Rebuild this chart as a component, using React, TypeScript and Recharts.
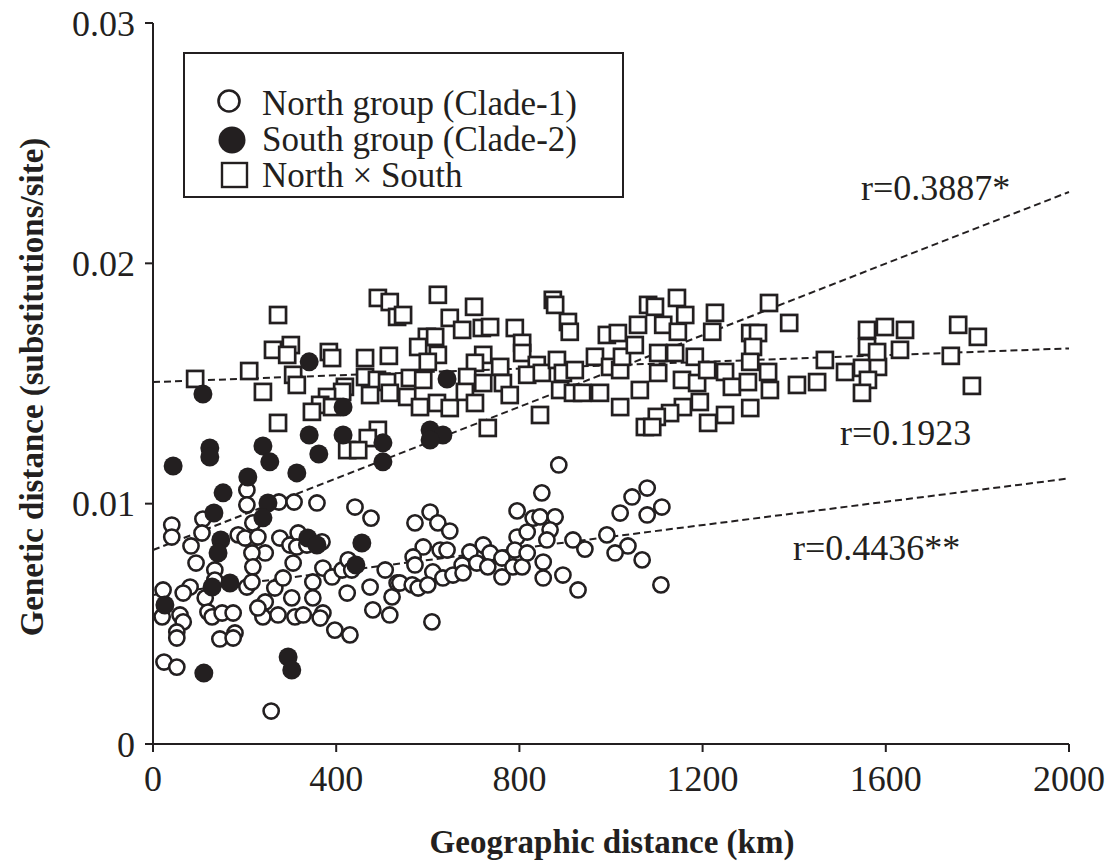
import { ScatterChart, Scatter, XAxis, YAxis, ReferenceLine, Legend } from "recharts";

const INK = "#231f20";
const FONT = '"Liberation Serif", "Times New Roman", serif';

// [geographic distance (km), genetic distance (substitutions/site)]
const northGroup: [number, number][] = [
  [41, 0.00911], [41, 0.00861], [83, 0.00824], [94, 0.00753], [109, 0.00936], [107, 0.00878],
  [205, 0.01057], [205, 0.00995], [186, 0.0087], [201, 0.00857], [218, 0.0092], [229, 0.00861],
  [275, 0.01007], [308, 0.01007], [358, 0.01003], [441, 0.00986], [476, 0.0094], [277, 0.00857],
  [299, 0.00828], [317, 0.00878], [314, 0.0082], [336, 0.00828], [369, 0.00841], [245, 0.00795],
  [216, 0.00795], [218, 0.00737], [135, 0.00724], [135, 0.00682], [81, 0.00653], [66, 0.00628],
  [22, 0.00641], [20, 0.00529], [59, 0.00537], [66, 0.00508], [52, 0.00466], [52, 0.00441],
  [114, 0.00608], [120, 0.00549], [129, 0.00529], [151, 0.00545], [175, 0.00545], [146, 0.00437],
  [179, 0.00462], [175, 0.00441], [205, 0.00653], [216, 0.00674], [245, 0.00591], [240, 0.00529],
  [273, 0.00537], [229, 0.00566], [266, 0.00649], [284, 0.00691], [306, 0.00753], [303, 0.00608],
  [310, 0.00529], [328, 0.00537], [349, 0.00674], [349, 0.00608], [371, 0.00732], [371, 0.00545],
  [365, 0.00524], [397, 0.00474], [430, 0.00454], [391, 0.00695], [413, 0.00724], [426, 0.00766],
  [424, 0.00628], [434, 0.00724], [474, 0.00653], [480, 0.00558], [507, 0.00724], [522, 0.00612],
  [517, 0.00537], [533, 0.0067], [24, 0.00341], [52, 0.0032], [258, 0.00137],
  [605, 0.00965], [572, 0.0092], [622, 0.0092], [648, 0.00886], [849, 0.01045], [886, 0.01161],
  [795, 0.0097], [830, 0.0094], [845, 0.00945], [878, 0.00945], [867, 0.00891], [795, 0.00861],
  [817, 0.00882], [860, 0.00849], [917, 0.00849], [943, 0.00811], [991, 0.0087], [1020, 0.00961],
  [1046, 0.01028], [1079, 0.01065], [1079, 0.00953], [1037, 0.00824], [1009, 0.00795], [1068, 0.00766],
  [590, 0.0082], [627, 0.00807], [642, 0.00807], [568, 0.00778], [572, 0.00745], [611, 0.00716],
  [633, 0.00691], [655, 0.00703], [675, 0.00745], [677, 0.00712], [692, 0.00799], [707, 0.00753],
  [721, 0.00828], [736, 0.00795], [731, 0.00737], [762, 0.00774], [762, 0.00695], [786, 0.00737],
  [806, 0.00737], [790, 0.00807], [817, 0.00795], [852, 0.00757], [852, 0.00691], [895, 0.00703],
  [928, 0.00641], [539, 0.0067], [566, 0.00662], [579, 0.00649], [600, 0.00662], [609, 0.00508],
  [1111, 0.00986], [1109, 0.00662],
];

const southGroup: [number, number][] = [
  [26, 0.00578], [109, 0.01456], [341, 0.0159], [415, 0.01402], [341, 0.01286], [415, 0.01286],
  [502, 0.01253], [362, 0.01207], [240, 0.0124], [255, 0.01174], [124, 0.01232], [124, 0.01194],
  [44, 0.01157], [207, 0.01111], [314, 0.01128], [502, 0.01174], [642, 0.01519], [605, 0.01307],
  [633, 0.01286], [605, 0.01265], [153, 0.01045], [133, 0.00961], [251, 0.01003], [240, 0.00941],
  [148, 0.00849], [142, 0.00795], [168, 0.0067], [129, 0.00653], [338, 0.00857], [358, 0.00828],
  [456, 0.00836], [443, 0.00745], [111, 0.00295], [295, 0.00362], [303, 0.00308],
];

const northXSouth: [number, number][] = [
  [273, 0.01785], [262, 0.0164], [301, 0.0166], [293, 0.01619], [92, 0.01519], [210, 0.01552],
  [240, 0.01465], [306, 0.01536], [314, 0.01494], [384, 0.01631], [391, 0.01606], [463, 0.01606],
  [515, 0.01615], [491, 0.01856], [517, 0.01839], [533, 0.01777], [463, 0.01527], [489, 0.01515],
  [511, 0.01506], [474, 0.01452], [517, 0.01461], [419, 0.01486], [413, 0.01465], [380, 0.01444],
  [365, 0.01411], [347, 0.01382], [391, 0.01402], [273, 0.01336], [491, 0.01307], [469, 0.01273],
  [424, 0.01223], [448, 0.01223],
  [622, 0.01869], [701, 0.01819], [546, 0.01785], [648, 0.01773], [675, 0.01723], [718, 0.01731],
  [736, 0.01735], [790, 0.01731], [598, 0.01694], [616, 0.01694], [579, 0.01652], [622, 0.01619],
  [600, 0.0159], [806, 0.01669], [806, 0.01627], [721, 0.01619], [703, 0.01586], [758, 0.01569],
  [838, 0.01577], [561, 0.01523], [590, 0.01515], [686, 0.01527], [721, 0.01502], [764, 0.01502],
  [817, 0.01536], [849, 0.01544], [555, 0.01444], [583, 0.01402], [620, 0.01419], [648, 0.01398],
  [681, 0.01465], [703, 0.01419], [779, 0.01452], [882, 0.01598], [895, 0.01544], [921, 0.01556],
  [889, 0.01473], [917, 0.01461], [937, 0.01461], [976, 0.01461], [965, 0.01611], [998, 0.01569],
  [1020, 0.01556], [1024, 0.01611], [991, 0.01702], [1015, 0.0171], [1059, 0.01744], [1052, 0.0166],
  [873, 0.01848], [878, 0.01827], [906, 0.01756], [910, 0.01715], [845, 0.01369], [731, 0.01315],
  [1020, 0.01402], [1063, 0.01473], [1074, 0.01319], [1081, 0.01827],
  [1144, 0.01856], [1162, 0.01785], [1096, 0.01819], [1114, 0.01744], [1146, 0.01715], [1227, 0.01794],
  [1221, 0.01715], [1345, 0.01835], [1389, 0.01752], [1304, 0.0171], [1321, 0.0171], [1310, 0.01652],
  [1304, 0.0159], [1103, 0.01627], [1140, 0.01627], [1183, 0.01611], [1103, 0.01544], [1155, 0.01515],
  [1188, 0.01502], [1210, 0.01556], [1249, 0.01548], [1264, 0.01486], [1299, 0.01506], [1343, 0.01548],
  [1347, 0.01473], [1194, 0.01423], [1157, 0.01402], [1129, 0.01377], [1100, 0.01361], [1090, 0.01319],
  [1212, 0.01336], [1249, 0.01369], [1304, 0.01398], [1406, 0.01494], [1450, 0.01506], [1467, 0.01598],
  [1511, 0.01548], [1548, 0.01565], [1583, 0.01569], [1559, 0.01723], [1598, 0.01735], [1559, 0.01652],
  [1581, 0.01631], [1561, 0.01515], [1548, 0.01461],
  [1642, 0.01723], [1631, 0.0164], [1758, 0.01744], [1801, 0.01694], [1742, 0.01615], [1788, 0.0149],
];

const xTicks = [0, 400, 800, 1200, 1600, 2000];
const yTicks = [0, 0.01, 0.02, 0.03];

// regression lines: [y at 0 km, y at 2000 km]
const fitNames = ["r=0.3887*", "r=0.1923", "r=0.4436**"];
const fitStart = [0.00807, 0.01506, 0.0062];
const fitEnd = [0.02297, 0.01646, 0.01105];
const fitLabelPos = [
  [861, 200],
  [840, 445],
  [793, 560],
];

const legendNames = ["North group (Clade-1)", "South group (Clade-2)", "North \u00d7 South"];

const toPoints = (rows: [number, number][]) => rows.map(([x, y]) => ({ x, y }));

const OpenCircle = (p: any) => (
  <circle cx={p.cx} cy={p.cy} r={7.6} fill="#fff" stroke={INK} strokeWidth={2.6} />
);
const FilledCircle = (p: any) => <circle cx={p.cx} cy={p.cy} r={9.5} fill={INK} />;
const OpenSquare = (p: any) => (
  <rect
    x={p.cx - 8}
    y={p.cy - 8}
    width={16}
    height={16}
    fill="#fff"
    stroke={INK}
    strokeWidth={2.7}
  />
);

function LegendBox() {
  return (
    <svg width={441} height={146} style={{ display: "block" }}>
      <rect x={1} y={1} width={439} height={144} fill="#fff" stroke={INK} strokeWidth={2} />
      <circle cx={46} cy={49} r={10.5} fill="#fff" stroke={INK} strokeWidth={2.6} />
      <circle cx={49} cy={88} r={13.5} fill={INK} />
      <rect x={39} y={111} width={25} height={24} fill="#fff" stroke={INK} strokeWidth={2.4} />
      {legendNames.map((name, i) => (
        <text
          key={name}
          x={79}
          y={63 + i * 36}
          fontSize={35}
          fontFamily={FONT}
          fill={INK}
        >
          {name}
        </text>
      ))}
    </svg>
  );
}

export default function App() {
  const axisLine = { stroke: INK, strokeWidth: 2 };
  const tickStyle = { fill: INK, fontSize: 36, fontFamily: FONT };
  return (
    <div style={{ position: "absolute", left: 0, top: 0 }}>
      <ScatterChart width={1113} height={863} margin={{ top: 23, right: 44, bottom: 0, left: 0 }}>
        <XAxis
          type="number"
          dataKey="x"
          domain={[0, 2000]}
          ticks={xTicks}
          interval={0}
          height={119}
          tickSize={8}
          tickMargin={13}
          axisLine={axisLine}
          tickLine={axisLine}
          tick={tickStyle}
          label={() => (
            <text
              x={612}
              y={853}
              textAnchor="middle"
              fontSize={33}
              fontWeight="bold"
              fontFamily={FONT}
              fill={INK}
            >
              Geographic distance (km)
            </text>
          )}
        />
        <XAxis
          xAxisId="top"
          orientation="top"
          type="number"
          domain={[0, 2000]}
          height={0}
          tick={false}
          tickLine={false}
          axisLine={axisLine}
        />
        <YAxis
          type="number"
          dataKey="y"
          domain={[0, 0.03]}
          ticks={yTicks}
          interval={0}
          width={153}
          tickSize={8}
          tickMargin={10}
          axisLine={axisLine}
          tickLine={axisLine}
          tick={tickStyle}
          tickFormatter={(v: number) => (v === 0 ? "0" : v.toFixed(2))}
          label={() => (
            <text
              x={43}
              y={387}
              transform="rotate(-90, 43, 387)"
              textAnchor="middle"
              fontSize={33}
              fontWeight="bold"
              fontFamily={FONT}
              fill={INK}
            >
              Genetic distance (substitutions/site)
            </text>
          )}
        />
        <YAxis
          yAxisId="right"
          orientation="right"
          type="number"
          domain={[0, 0.03]}
          width={0}
          tick={false}
          tickLine={false}
          axisLine={axisLine}
        />
        <Scatter
          name="North × South"
          data={toPoints(northXSouth)}
          shape={OpenSquare}
          isAnimationActive={false}
        />
        <Scatter
          name="North group (Clade-1)"
          data={toPoints(northGroup)}
          shape={OpenCircle}
          isAnimationActive={false}
        />
        <Scatter
          name="South group (Clade-2)"
          data={toPoints(southGroup)}
          shape={FilledCircle}
          isAnimationActive={false}
        />
        {fitNames.map((name, i) => (
          <ReferenceLine
            key={name}
            segment={[
              { x: 0, y: fitStart[i] },
              { x: 2000, y: fitEnd[i] },
            ]}
            stroke={INK}
            strokeWidth={2}
            strokeDasharray="7 4"
            label={() => (
              <text
                x={fitLabelPos[i][0]}
                y={fitLabelPos[i][1]}
                fontSize={36}
                fontFamily={FONT}
                fill={INK}
              >
                {name}
              </text>
            )}
          />
        ))}
        <Legend
          layout="vertical"
          align="center"
          verticalAlign="middle"
          wrapperStyle={{ left: 183, top: 52, width: 441, height: 146 }}
          content={() => <LegendBox />}
        />
      </ScatterChart>
    </div>
  );
}
